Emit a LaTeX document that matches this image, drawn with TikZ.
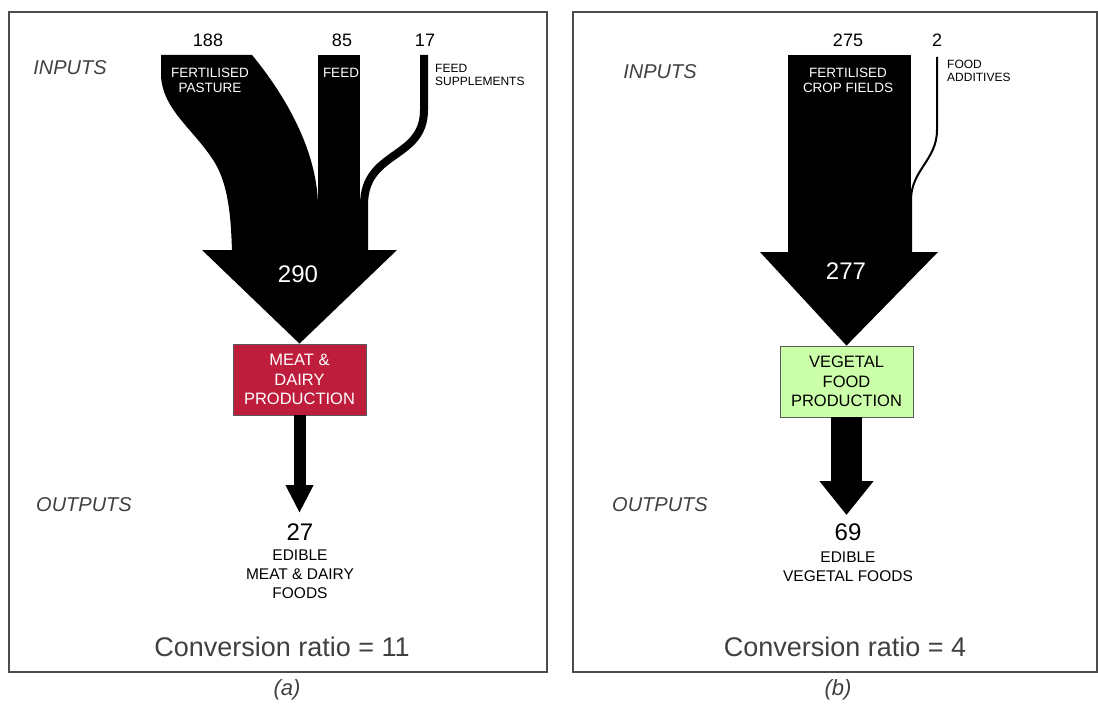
\documentclass[tikz,border=0pt]{standalone}
\usepackage{fontspec}
\setmainfont{Liberation Sans}
\usetikzlibrary{arrows.meta}
\definecolor{meatred}{RGB}{190,30,60}
\definecolor{vegegreen}{RGB}{204,255,170}
\definecolor{labelgray}{RGB}{64,64,64}

\begin{document}
\begin{tikzpicture}[x=1pt, y=-1pt,
  panel/.style={draw=black!70, line width=1.2pt},
  side/.style={text=labelgray, font=\fontsize{20}{20}\selectfont\itshape},
  count/.style={font=\fontsize{18}{18}\selectfont},
  inlabel/.style={text=white, align=center, font=\fontsize{13.5}{15}\selectfont},
  sidenote/.style={align=left, inner sep=0pt, font=\fontsize{12}{13}\selectfont},
  total/.style={text=white, font=\fontsize{24}{24}\selectfont},
  prod/.style={draw=black!65, line width=.8pt, minimum width=133pt, minimum height=71pt, inner sep=0pt, align=center, font=\fontsize{16.5}{19.5}\selectfont},
  outnum/.style={font=\fontsize{24}{24}\selectfont},
  outtext/.style={align=center, font=\fontsize{15.5}{19}\selectfont},
  ratio/.style={text=labelgray, font=\fontsize{27}{27}\selectfont},
  caption/.style={text=labelgray, font=\fontsize{22}{22}\selectfont\itshape}]
\useasboundingbox (0,0) rectangle (1098,709);
% Panels
\draw[panel] (9,12) rectangle (547,672);
\draw[panel] (573,12) rectangle (1097,672);
\node[side] (ina) at (70,68) {INPUTS};
\node[side] (outa) at (84,505) {OUTPUTS};
\node[side] (inb) at (660,72) {INPUTS};
\node[side] (outb) at (660,505) {OUTPUTS};
% Production boxes
\node[prod, fill=meatred, text=white] (meatbox) at (299.5,379.5) {MEAT \&\\DAIRY\\PRODUCTION};
\node[prod, fill=vegegreen] (vegbox) at (846.5,381.5) {VEGETAL\\FOOD\\PRODUCTION};

% (a) input flows
\fill (161,55) -- (252,55) .. controls (285,95) and (317,150) .. (318,205) -- (318,252) -- (232,252) .. controls (231,215) and (228,185) .. (215,163) .. controls (195,130) and (162,110) .. (161,75) -- cycle;
\fill (318,55) rectangle (360,252);
\draw[line width=8pt] (424,55) -- (424,110) .. controls (424,160) and (364,150) .. (364,205) -- (364,252);
\fill (202,250) -- (397,250) -- (meatbox.north) -- cycle;
\node[count] (n188) at (208,40) {188};
\node[count] (n85) at (342,40) {85};
\node[count] (n17) at (425,40) {17};
\node[inlabel] (pasture) at (210,80) {FERTILISED\\PASTURE};
\node[inlabel] (feed) at (341,73) {FEED};
\node[sidenote, anchor=west] (supp) at (435,74.5) {FEED\\SUPPLEMENTS};
\node[total] (n290) at (298,274) {290};

% (a) output
\coordinate (meattip) at (299.5,513);
\draw[line width=12pt, -{Triangle[length=28pt, width=26pt]}] (meatbox.south) -- (meattip);
\node[outnum] (meatout) at (300,532) {27};
\node[outtext] (meatfood) at (300,574) {EDIBLE\\MEAT \& DAIRY\\FOODS};
\node[ratio] (ratioa) at (282,647) {Conversion ratio = 11};
\node[caption] (capa) at (287,690) {(a)};

% (b) input flows
\fill (788,55) rectangle (911,252);
\draw[line width=2pt] (937,57) -- (937,130) .. controls (937,160) and (911,170) .. (911,200) -- (911,252);
\fill (760,252) -- (938,252) -- (vegbox.north) -- cycle;
\node[count] (n275) at (848,40) {275};
\node[count] (n2) at (937,40) {2};
\node[inlabel] (crop) at (848,80) {FERTILISED\\CROP FIELDS};
\node[sidenote, anchor=west] (addit) at (947,71) {FOOD\\ADDITIVES};
\node[total] (n277) at (846,271) {277};

% (b) output
\coordinate (vegtip) at (846.5,515);
\draw[line width=31pt, -{Triangle[length=34pt, width=52pt]}] (vegbox.south) -- (vegtip);
\node[outnum] (vegout) at (848,532) {69};
\node[outtext] (vegfood) at (848,567) {EDIBLE\\VEGETAL FOODS};
\node[ratio] (ratiob) at (845,647) {Conversion ratio = 4};
\node[caption] (capb) at (838,690) {(b)};
\end{tikzpicture}
\end{document}
